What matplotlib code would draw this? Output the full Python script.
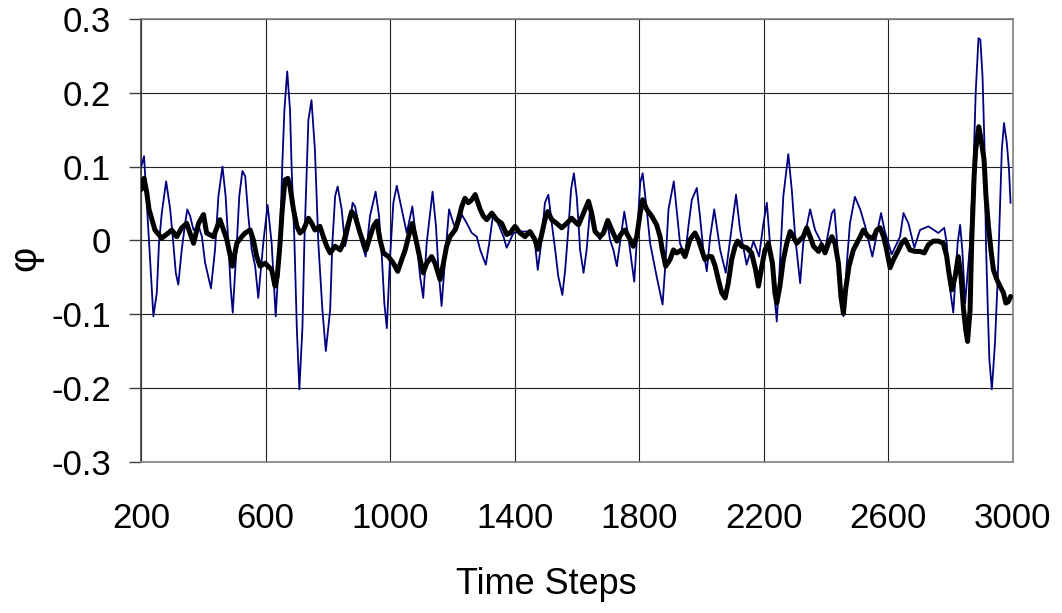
import numpy as np
import matplotlib.pyplot as plt

# thin blue series (time step, phi)
blue_t = [200, 209, 221, 239, 250, 257, 266, 280, 293, 303, 311, 319, 330, 341, 348, 357, 368, 384,
          395, 405, 424, 437, 448, 461, 471, 480, 487, 494, 507, 515, 525, 534, 544, 555, 566, 576,
          592, 606, 619, 632, 646, 653, 660, 669, 678, 683, 692, 700, 708, 718, 724, 732, 737, 747,
          758, 769, 782, 793, 807, 814, 823, 831, 844, 855, 871, 879, 887, 898, 908, 921, 935, 953,
          964, 973, 981, 989, 999, 1010, 1021, 1037, 1053, 1071, 1085, 1096, 1106, 1117, 1136, 1147,
          1155, 1165, 1176, 1189, 1203, 1214, 1230, 1246, 1262, 1278, 1289, 1307, 1318, 1331, 1348,
          1364, 1374, 1396, 1422, 1455, 1465, 1474, 1485, 1497, 1508, 1519, 1530, 1540, 1553, 1562,
          1572, 1581, 1590, 1599, 1605, 1610, 1621, 1631, 1642, 1658, 1674, 1696, 1706, 1717, 1728,
          1744, 1752, 1765, 1776, 1784, 1795, 1803, 1811, 1824, 1835, 1856, 1875, 1885, 1894, 1911,
          1920, 1931, 1947, 1958, 1969, 1985, 1995, 2006, 2017, 2028, 2041, 2060, 2078, 2092, 2111,
          2124, 2145, 2167, 2185, 2199, 2210, 2220, 2231, 2242, 2252, 2263, 2279, 2290, 2301, 2317,
          2327, 2349, 2365, 2397, 2419, 2427, 2435, 2445, 2456, 2467, 2477, 2493, 2510, 2526, 2549,
          2577, 2588, 2611, 2638, 2649, 2665, 2684, 2702, 2729, 2761, 2780, 2788, 2799, 2809, 2823,
          2831, 2838, 2847, 2863, 2874, 2881, 2890, 2896, 2903, 2909, 2914, 2920, 2925, 2933, 2943,
          2952, 2959, 2965, 2972, 2981, 2988, 2993]
blue_phi = [0.10, 0.114, 0.028, -0.103, -0.071, -0.004, 0.037, 0.080, 0.042, -0.004, -0.044, -0.06,
            -0.013, 0.023, 0.042, 0.033, 0.014, 0.02, 0.005, -0.03, -0.065, -0.013, 0.06, 0.1, 0.06,
            -0.004, -0.062, -0.098, -0.004, 0.06, 0.094, 0.087, 0.033, -0.013, -0.035, -0.078,
            -0.004, 0.048, -0.004, -0.103, 0.001, 0.1, 0.177, 0.229, 0.177, 0.1, 0.001, -0.121,
            -0.202, -0.117, -0.004, 0.1, 0.163, 0.19, 0.123, -0.004, -0.094, -0.15, -0.094, -0.004,
            0.06, 0.073, 0.042, -0.008, 0.023, 0.051, 0.046, 0.023, -0.004, -0.022, 0.033, 0.066,
            0.033, -0.022, -0.085, -0.119, -0.026, 0.051, 0.074, 0.042, 0.01, 0.046, -0.004, -0.049,
            -0.078, -0.004, 0.066, 0.019, -0.04, -0.089, -0.026, 0.042, 0.023, 0.014, 0.035, 0.023,
            0.01, 0.005, -0.013, -0.033, -0.004, 0.037, 0.021, 0.005, -0.01, 0.01, 0.012, 0.012,
            -0.004, -0.04, -0.004, 0.051, 0.062, 0.023, -0.013, -0.049, -0.074, -0.04, 0.014, 0.069,
            0.091, 0.06, 0.023, -0.013, -0.044, -0.013, 0.042, 0.014, 0.001, 0.028, 0.001, -0.013,
            -0.035, 0.014, 0.039, 0.005, -0.031, -0.056, 0.019, 0.078, 0.091, 0.042, -0.004, -0.049,
            -0.087, -0.026, 0.042, 0.08, 0.042, -0.004, -0.022, 0.019, 0.055, 0.071, 0.033, -0.013,
            -0.042, 0.005, 0.042, -0.013, -0.044, 0.001, 0.062, 0.014, -0.033, -0.001, -0.022, 0.023,
            0.051, -0.004, -0.058, -0.11, -0.031, 0.06, 0.117, 0.069, 0.005, -0.058, -0.004, 0.042,
            0.014, -0.013, 0.037, 0.042, 0.001, -0.058, -0.103, -0.031, 0.023, 0.059, 0.042, 0.019,
            -0.022, 0.037, 0.014, -0.019, 0.005, 0.037, 0.023, -0.01, 0.014, 0.019, 0.01, 0.017,
            -0.004, -0.067, -0.098, -0.004, 0.021, -0.013, -0.085, -0.004, 0.1, 0.2, 0.274, 0.272,
            0.222, 0.132, -0.004, -0.094, -0.162, -0.202, -0.139, -0.049, 0.042, 0.123, 0.159,
            0.132, 0.096, 0.051]

# thick black series (time step, phi)
black_t = [200, 209, 218, 225, 244, 266, 287, 298, 314, 330, 346, 368, 384, 400, 410, 432, 453, 475,
           493, 507, 523, 534, 550, 560, 571, 582, 598, 619, 630, 637, 646, 653, 662, 671, 678, 689,
           700, 710, 721, 737, 748, 758, 774, 785, 796, 807, 823, 839, 849, 860, 876, 887, 903, 914,
           922, 935, 946, 957, 967, 978, 994, 1010, 1024, 1037, 1048, 1064, 1071, 1085, 1096, 1106,
           1117, 1133, 1144, 1160, 1171, 1181, 1192, 1208, 1219, 1230, 1240, 1251, 1262, 1273, 1289,
           1299, 1310, 1326, 1342, 1358, 1374, 1385, 1401, 1417, 1433, 1449, 1465, 1474, 1485, 1497,
           1506, 1519, 1535, 1551, 1567, 1583, 1599, 1605, 1621, 1637, 1647, 1658, 1674, 1685, 1699,
           1712, 1728, 1744, 1754, 1771, 1781, 1792, 1803, 1811, 1824, 1840, 1856, 1867, 1874, 1885,
           1899, 1910, 1920, 1936, 1947, 1963, 1979, 1990, 2001, 2011, 2022, 2033, 2044, 2054, 2065,
           2076, 2086, 2097, 2108, 2116, 2129, 2145, 2161, 2174, 2183, 2194, 2204, 2215, 2228, 2236,
           2242, 2252, 2263, 2274, 2285, 2295, 2306, 2317, 2327, 2338, 2349, 2360, 2376, 2386, 2397,
           2408, 2419, 2429, 2440, 2448, 2456, 2463, 2474, 2488, 2499, 2510, 2520, 2536, 2552, 2563,
           2574, 2585, 2595, 2606, 2617, 2633, 2643, 2654, 2670, 2686, 2702, 2716, 2729, 2745, 2761,
           2777, 2788, 2795, 2804, 2815, 2825, 2834, 2842, 2849, 2855, 2863, 2868, 2876, 2881, 2891,
           2900, 2908, 2914, 2922, 2930, 2938, 2949, 2959, 2970, 2978, 2986, 2993]
black_phi = [0.069, 0.084, 0.064, 0.042, 0.014, 0.003, 0.01, 0.014, 0.005, 0.017, 0.023, -0.004,
             0.023, 0.035, 0.01, 0.005, 0.028, 0.001, -0.035, -0.004, 0.005, 0.01, 0.014, 0.001,
             -0.022, -0.035, -0.031, -0.04, -0.062, -0.049, -0.004, 0.042, 0.082, 0.084, 0.073,
             0.042, 0.019, 0.01, 0.014, 0.03, 0.023, 0.014, 0.019, 0.005, -0.008, -0.017, -0.008,
             -0.013, -0.004, 0.014, 0.039, 0.033, 0.01, -0.004, -0.013, 0.005, 0.019, 0.026, 0.001,
             -0.017, -0.022, -0.031, -0.042, -0.026, -0.013, 0.014, 0.023, -0.004, -0.026, -0.044,
             -0.031, -0.022, -0.031, -0.053, -0.031, -0.008, 0.005, 0.014, 0.028, 0.046, 0.057,
             0.051, 0.055, 0.062, 0.042, 0.033, 0.028, 0.037, 0.028, 0.023, 0.008, 0.01, 0.019, 0.01,
             0.005, 0.012, 0.001, -0.012, 0.005, 0.028, 0.039, 0.028, 0.023, 0.017, 0.023, 0.03,
             0.023, 0.021, 0.037, 0.053, 0.037, 0.012, 0.005, 0.01, 0.027, 0.014, -0.001, 0.01,
             0.014, 0.001, -0.008, 0.005, 0.037, 0.055, 0.042, 0.033, 0.021, 0.005, -0.013, -0.035,
             -0.026, -0.013, -0.017, -0.013, -0.022, 0.001, 0.01, 0.001, -0.013, -0.026, -0.022,
             -0.022, -0.035, -0.053, -0.071, -0.078, -0.058, -0.026, -0.008, -0.001, -0.008, -0.01,
             -0.017, -0.04, -0.062, -0.035, -0.013, -0.004, -0.031, -0.071, -0.085, -0.062, -0.026,
             -0.004, 0.012, 0.005, -0.004, 0.001, 0.005, 0.017, 0.005, -0.008, -0.015, -0.006,
             -0.017, -0.004, 0.005, -0.004, -0.031, -0.076, -0.099, -0.067, -0.035, -0.013, -0.004,
             0.005, 0.014, 0.005, 0.003, 0.014, 0.017, 0.005, -0.013, -0.037, -0.026, -0.013, -0.004,
             0.001, -0.013, -0.015, -0.015, -0.017, -0.006, -0.001, -0.001, -0.004, -0.022, -0.044,
             -0.067, -0.049, -0.022, -0.049, -0.094, -0.121, -0.137, -0.094, -0.004, 0.087, 0.123,
             0.154, 0.132, 0.109, 0.06, 0.019, -0.013, -0.04, -0.053, -0.062, -0.071, -0.085,
             -0.083, -0.076]

x_ticks = [200, 600, 1000, 1400, 1800, 2200, 2600, 3000]
y_ticks = [-0.3, -0.2, -0.1, 0, 0.1, 0.2, 0.3]
y_labels = ['-0.3', '-0.2', '-0.1', '0', '0.1', '0.2', '0.3']

plt.rcParams['font.family'] = ['Liberation Sans', 'DejaVu Sans']

fig = plt.figure(figsize=(10.62, 6.13), dpi=100)
ax = fig.add_axes([0.133, 0.2468, 0.8206, 0.7222])

ax.plot(blue_t, blue_phi, color='#000080', lw=1.3, zorder=3)
ax.plot(black_t, black_phi, color='black', lw=3.6, zorder=4,
        solid_joinstyle='round', solid_capstyle='round')

ax.set_xlim(200, 3000)
ax.set_ylim(-0.3, 0.3)
ax.set_xticks(x_ticks)
ax.set_yticks(y_ticks)
ax.set_yticklabels(y_labels)
ax.grid(True, color='#202020', lw=0.8, zorder=1)

for side in ['top', 'right', 'bottom']:
    ax.spines[side].set_color('#808080')
ax.spines['left'].set_color('#404040')
for s in ax.spines.values():
    s.set_linewidth(1.2)

ax.tick_params(axis='x', length=0, pad=29, labelsize=25)
ax.tick_params(axis='y', length=8.6, width=1, color='#404040', pad=13, labelsize=25)

fig.text(546 / 1062, 1 - 585 / 613, 'Time Steps', ha='center', va='center', fontsize=26)
fig.text(25 / 1062, 1 - 258 / 613, 'φ', ha='center', va='center', fontsize=28, rotation=90)

fig.savefig('out.png', dpi=100)
